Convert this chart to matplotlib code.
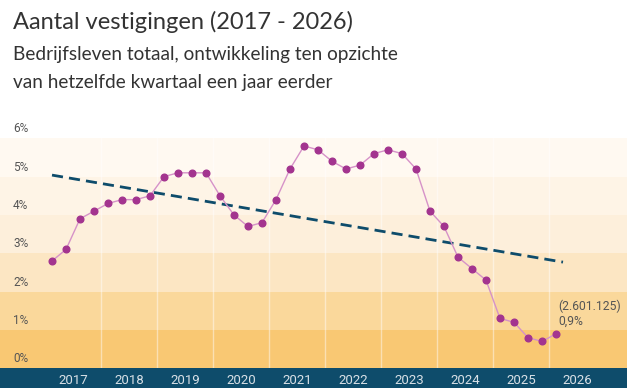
import matplotlib
matplotlib.use("Agg")
import matplotlib.pyplot as plt
from matplotlib.patches import Rectangle
import matplotlib.transforms as mtransforms

# ---------------- data ----------------
title = "Aantal vestigingen (2017 - 2026)"
subtitle_lines = ["Bedrijfsleven totaal, ontwikkeling ten opzichte",
                  "van hetzelfde kwartaal een jaar eerder"]

first_year = 2017
years = list(range(2017, 2027))
year_labels = [str(y) for y in years]
ytick_values = [0, 1, 2, 3, 4, 5, 6]
ytick_labels = ["0%", "1%", "2%", "3%", "4%", "5%", "6%"]

# quarterly growth (%), 2017-K1 ... 2026-K1
growth = [2.8, 3.1, 3.9, 4.1, 4.3, 4.4, 4.4, 4.5,
          5.0, 5.1, 5.1, 5.1, 4.5, 4.0, 3.7, 3.8,
          4.4, 5.2, 5.8, 5.7, 5.4, 5.2, 5.3, 5.6,
          5.7, 5.6, 5.2, 4.1, 3.7, 2.9, 2.6, 2.3,
          1.3, 1.2, 0.8, 0.7, 0.9]
quarter_x = [first_year + (i + 0.5) / 4 for i in range(len(growth))]

trend_x = [2017.125, 2026.25]
trend_y = [5.04, 2.77]

last_label = "(2.601.125)\n0,9%"

band_colors = ["#f9c873", "#fad89b", "#fce6c3", "#fdefdb", "#fef4e6", "#fff9f1"]

# ---------------- figure ----------------
W, H = 627, 388
fig = plt.figure(figsize=(W / 100, H / 100), dpi=100)
fig.patch.set_facecolor("white")

ax_bottom_px = 368.3
ax_top_px = 138.3

# bottom bar (drawn below the axes so tick labels stay visible)
fig.patches.append(Rectangle((0, 0), 1, (H - ax_bottom_px) / H, transform=fig.transFigure,
                             facecolor="#0e4c6b", edgecolor="none", zorder=-5))

ax = fig.add_axes([0, (H - ax_bottom_px) / H, 1, (ax_bottom_px - ax_top_px) / H])
ax.set_facecolor("white")

x_left = 2017 - 45 / 56
x_right = 2017 + (W - 45) / 56
ax.set_xlim(x_left, x_right)
ax.set_ylim(0, 6)

for i, c in enumerate(band_colors):
    ax.axhspan(i, i + 1, color=c, lw=0, zorder=0)

for y in years[1:]:
    ax.axvline(y, color="white", alpha=0.45, lw=1.0, zorder=1)

for s in ax.spines.values():
    s.set_visible(False)
ax.set_yticks([])

# y labels inside the plot
trans = mtransforms.blended_transform_factory(ax.transAxes, ax.transData)
for v, lab in zip(ytick_values, ytick_labels):
    ax.text(13 / W, v + 0.25, lab, transform=trans, ha="left", va="center",
            fontsize=8.5, color="#555555", family="Roboto", zorder=5)

ax.set_xticks([y + 0.5 for y in years])
ax.set_xticklabels(year_labels, fontsize=9.5, color="#d8e0e6", family="Roboto")
ax.tick_params(axis="x", length=0, pad=4)

# trend
ax.plot(trend_x, trend_y, color="#0e4c6b", lw=2.0, dashes=(4, 2.2), zorder=3,
        solid_capstyle="butt", dash_capstyle="butt")

# series
ax.plot(quarter_x, growth, color="#d692c8", lw=1.0, zorder=4)
ax.plot(quarter_x, growth, ls="none", marker="o", ms=4.8, mfc="#a3348f", mec="#a3348f", zorder=5)

ax.text(2017 + (558 - 45) / 56, 1.43, last_label, ha="left", va="center",
        fontsize=8.7, color="#555555", family="Roboto", linespacing=1.2, zorder=6)

# titles
fig.text(13 / W, 1 - 22 / H, title, ha="left", va="center", fontsize=17,
         family="Lato", fontweight="normal", color="#333333")
for line, ypx in zip(subtitle_lines, [54.5, 82.5]):
    fig.text(13 / W, 1 - ypx / H, line, ha="left", va="center", fontsize=13.7,
             family="Lato", fontweight="normal", color="#333333")

fig.savefig("out.png", dpi=100, facecolor="white")
